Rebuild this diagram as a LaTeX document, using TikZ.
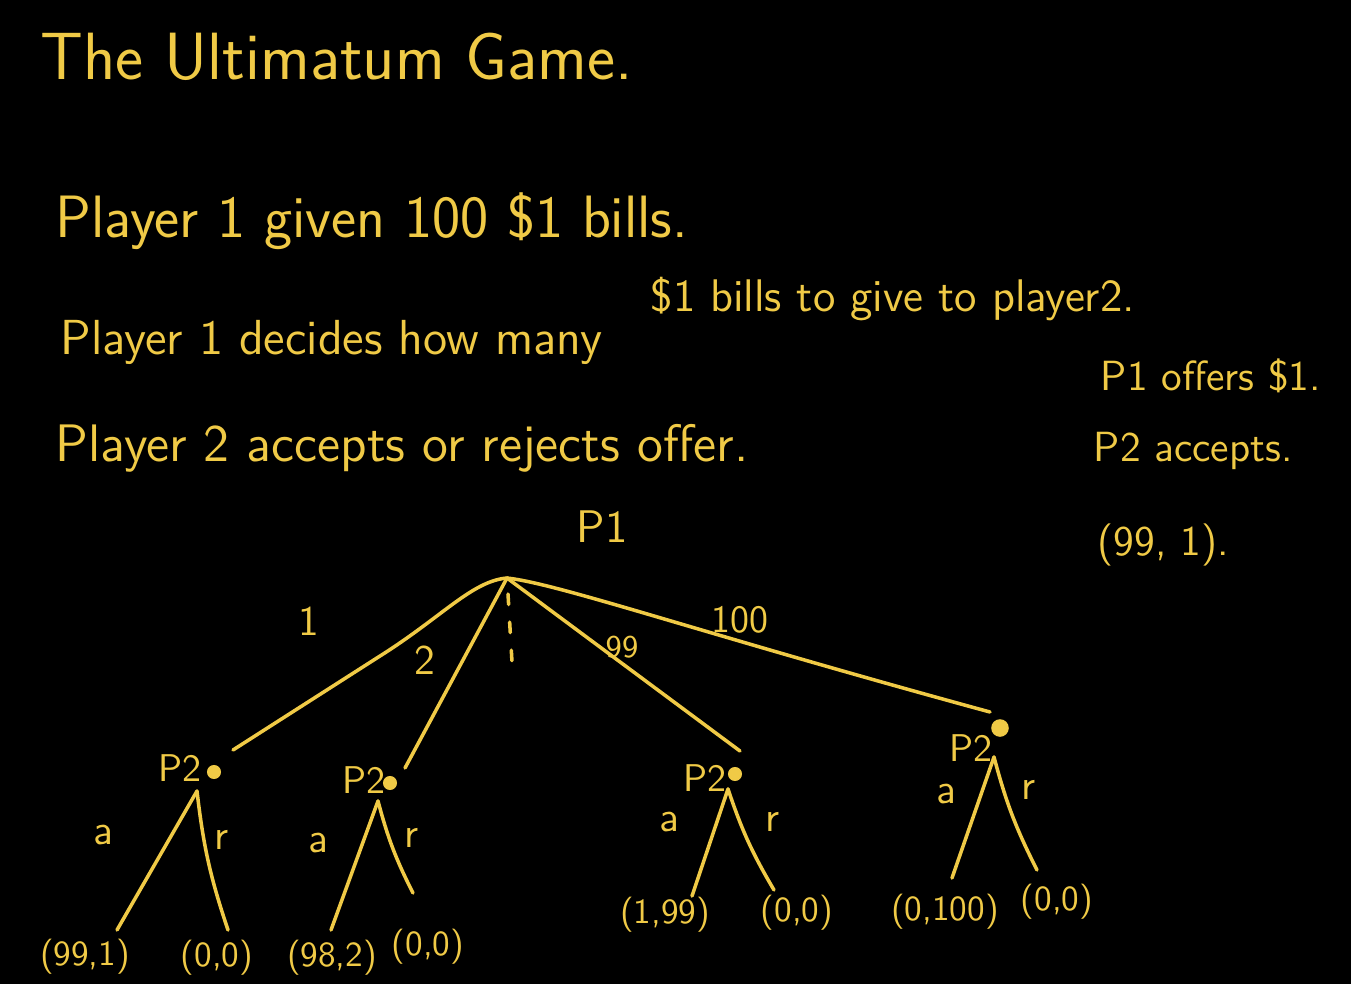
\documentclass[tikz,border=0pt]{standalone}
\usepackage{fontspec}
\usetikzlibrary{positioning}
\definecolor{chalk}{RGB}{240,202,70}
\tikzset{
  pen/.style = {draw = chalk, line width = 1pt, line cap = round},
  words/.style = {text = chalk, inner sep = 0pt, anchor = base west,
    font = \sffamily\fontsize{#1}{#1}\selectfont},
  tag/.style = {text = chalk, inner sep = 0pt,
    font = \sffamily\fontsize{#1}{#1}\selectfont},
  dot/.style = {circle, fill = chalk, inner sep = 0pt, minimum size = #1}
}
\begin{document}
\begin{tikzpicture}[x = 0.01cm, y = -0.01cm]
  \fill [black] (0, 0) rectangle (1351, 984);
  \useasboundingbox (0, 0) rectangle (1351, 984);

  % the rules
  \node [words = 19] (title) at (40, 79) {The Ultimatum Game.};
  \node [words = 17] (rule1) at (55, 237) {Player 1 given 100 \$1 bills.};
  \node [words = 14] (rule2) at (60, 354) {Player 1 decides how many};
  \node [words = 13] (rule2b) at (650, 311) {\$1 bills to give to player2.};
  \node [words = 15] (rule3) at (55, 461) {Player 2 accepts or rejects offer.};

  % the example on the right
  \node [words = 12] (ex1) at (1100, 390) {P1 offers \$1.};
  \node [words = 12] (ex2) at (1093, 461) {P2 accepts.};
  \node [words = 12] (ex3) at (1097, 555) {(99, 1).};

  % player 1 and the offers
  \coordinate (root) at (507, 578);
  \node [tag = 13] (p1) at (602, 527) {P1};
  \coordinate (endA) at (233, 750);
  \coordinate (endB) at (405, 768);
  \coordinate (endC) at (740, 751);
  \coordinate (endD) at (990, 712);
  \coordinate (dashTop) at (508, 594);
  \coordinate (dashEnd) at (512, 662);
  \draw [pen] (root) .. controls (472, 581) and (442, 617) .. (380, 656) -- (endA);
  \draw [pen] (root) -- (endB);
  \draw [pen] (root) -- (endC);
  \draw [pen] (root) .. controls (560, 584) and (700, 633) .. (endD);
  \draw [pen, dash pattern = on 3pt off 5pt] (dashTop) -- (dashEnd);
  \node [tag = 12] (o1) at (309, 621) {1};
  \node [tag = 12] (o2) at (425, 660) {2};
  \node [tag = 9] (o99) at (622, 647) {99};
  \node [tag = 11] (o100) at (740, 620) {100};

  % player 2 nodes
  \node [tag = 11] (p2A) at (180, 768) {P2};
  \node [tag = 11] (p2B) at (364, 780) {P2};
  \node [tag = 11] (p2C) at (705, 778) {P2};
  \node [tag = 11] (p2D) at (971, 748) {P2};
  \node [dot = 4pt] (dotA) at (214, 772) {};
  \node [dot = 4pt] (dotB) at (390, 783) {};
  \node [dot = 4pt] (dotC) at (735, 774) {};
  \node [dot = 5pt] (dotD) at (1000, 728) {};
  \coordinate (forkA) at (197, 791);
  \coordinate (forkB) at (378, 801);
  \coordinate (forkC) at (728, 789);
  \coordinate (forkD) at (994, 757);

  % accept / reject
  \coordinate (accA) at (117, 930);
  \coordinate (rejA) at (228, 930);
  \coordinate (accB) at (331, 930);
  \coordinate (rejB) at (413, 893);
  \coordinate (accC) at (692, 896);
  \coordinate (rejC) at (774, 890);
  \coordinate (accD) at (952, 878);
  \coordinate (rejD) at (1037, 870);
  \foreach \n in {A, B, C, D} {
    \draw [pen] (fork\n) -- (acc\n);
    \draw [pen] (fork\n) to [bend right = 6] (rej\n);
  }
  \node [tag = 12] (aA) at (103, 835) {a};
  \node [tag = 12] (rA) at (222, 840) {r};
  \node [tag = 12] (aB) at (318, 843) {a};
  \node [tag = 12] (rB) at (412, 838) {r};
  \node [tag = 12] (aC) at (669, 822) {a};
  \node [tag = 12] (rC) at (773, 822) {r};
  \node [tag = 12] (aD) at (946, 794) {a};
  \node [tag = 12] (rD) at (1029, 790) {r};

  % payoffs
  \node [tag = 10] (payA1) at (85, 957) {(99,1)};
  \node [tag = 10] (payA2) at (217, 958) {(0,0)};
  \node [tag = 10] (payB1) at (332, 958) {(98,2)};
  \node [tag = 10] (payB2) at (428, 947) {(0,0)};
  \node [tag = 10] (payC1) at (665, 915) {(1,99)};
  \node [tag = 10] (payC2) at (797, 913) {(0,0)};
  \node [tag = 10] (payD1) at (945, 912) {(0,100)};
  \node [tag = 10] (payD2) at (1057, 902) {(0,0)};
\end{tikzpicture}
\end{document}
